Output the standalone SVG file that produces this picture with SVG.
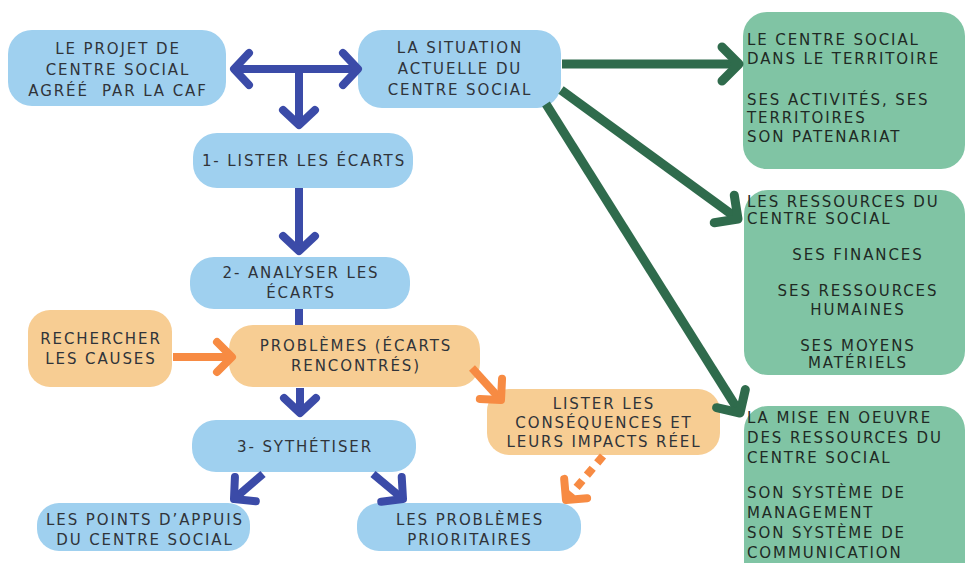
<svg xmlns="http://www.w3.org/2000/svg" width="966" height="563" viewBox="0 0 966 563">
<style>
.bl{fill:#9fd0ef}
.or{fill:#f7cd93}
.gr{fill:#80c4a4}
text{font-family:"DejaVu Sans","Liberation Sans",sans-serif;font-size:15px;letter-spacing:1.9px;fill:#30343a}
.c{text-anchor:middle}
.g{fill:#1f2a24}
.lb{stroke:#3b4ba8;stroke-width:8;fill:none}
.lg{stroke:#2f6b4c;stroke-width:9;fill:none}
.lo{stroke:#f78b43;stroke-width:8;fill:none}
</style>
<defs>
<marker id="mb" markerUnits="userSpaceOnUse" viewBox="-30 -30 40 60" refX="0" refY="0" markerWidth="40" markerHeight="60" orient="auto-start-reverse" overflow="visible"><path d="M-15,-16 L0,0 L-15,16" fill="none" stroke="#3b4ba8" stroke-width="8" stroke-linecap="round" stroke-linejoin="round"/></marker>
<marker id="mg" markerUnits="userSpaceOnUse" viewBox="-30 -30 40 60" refX="0" refY="0" markerWidth="40" markerHeight="60" orient="auto" overflow="visible"><path d="M-17,-17 L0,0 L-17,17" fill="none" stroke="#2f6b4c" stroke-width="9" stroke-linecap="round" stroke-linejoin="round"/></marker>
<marker id="mo" markerUnits="userSpaceOnUse" viewBox="-30 -30 40 60" refX="0" refY="0" markerWidth="40" markerHeight="60" orient="auto" overflow="visible"><path d="M-15,-15 L0,0 L-15,15" fill="none" stroke="#f78b43" stroke-width="8" stroke-linecap="round" stroke-linejoin="round"/></marker>
</defs>

<g id="n1"><rect class="bl" x="8" y="30" width="218" height="76" rx="24"/>
<text class="c" x="118" y="54">LE PROJET DE</text>
<text class="c" x="118" y="75">CENTRE SOCIAL</text>
<text class="c" x="118" y="96" xml:space="preserve">AGRÉÉ  PAR LA CAF</text></g>

<g id="n2"><rect class="bl" x="358" y="30" width="203" height="78" rx="24"/>
<text class="c" x="460" y="53">LA SITUATION</text>
<text class="c" x="460" y="74">ACTUELLE DU</text>
<text class="c" x="460" y="95">CENTRE SOCIAL</text></g>

<g id="n3"><rect class="bl" x="193" y="133" width="220" height="55" rx="24"/>
<text class="c" x="304" y="166">1- LISTER LES ÉCARTS</text></g>

<g id="n4"><rect class="bl" x="190" y="257" width="220" height="52" rx="24"/>
<text class="c" x="301" y="278">2- ANALYSER LES</text>
<text class="c" x="301" y="298">ÉCARTS</text></g>

<g id="n5"><rect class="or" x="28" y="310" width="144" height="77" rx="22"/>
<text class="c" x="101" y="344">RECHERCHER</text>
<text class="c" x="101" y="364">LES CAUSES</text></g>

<g id="n6"><rect class="or" x="229" y="325" width="251" height="62" rx="24"/>
<text class="c" x="356" y="351">PROBLÈMES (ÉCARTS</text>
<text class="c" x="356" y="371">RENCONTRÉS)</text></g>

<g id="n7"><rect class="bl" x="192" y="420" width="224" height="52" rx="24"/>
<text class="c" x="305" y="452">3- SYTHÉTISER</text></g>

<g id="n8"><rect class="bl" x="37" y="503" width="213" height="48" rx="22"/>
<text class="c" x="145" y="525">LES POINTS D’APPUIS</text>
<text class="c" x="145" y="545">DU CENTRE SOCIAL</text></g>

<g id="n9"><rect class="bl" x="357" y="503" width="224" height="48" rx="22"/>
<text class="c" x="470" y="525">LES PROBLÈMES</text>
<text class="c" x="470" y="545">PRIORITAIRES</text></g>

<g id="n10"><rect class="or" x="487" y="389" width="233" height="66" rx="22"/>
<text class="c" x="604" y="409">LISTER LES</text>
<text class="c" x="604" y="428">CONSÉQUENCES ET</text>
<text class="c" x="604" y="447">LEURS IMPACTS RÉEL</text></g>

<g id="g1"><rect class="gr" x="743" y="12" width="222" height="157" rx="24"/>
<text class="g" x="747" y="45">LE CENTRE SOCIAL</text>
<text class="g" x="747" y="64">DANS LE TERRITOIRE</text>
<text class="g" x="747" y="105">SES ACTIVITÉS, SES</text>
<text class="g" x="747" y="123">TERRITOIRES</text>
<text class="g" x="747" y="142">SON PATENARIAT</text></g>

<g id="g2"><rect class="gr" x="744" y="190" width="221" height="185" rx="24"/>
<text class="g" x="747" y="207">LES RESSOURCES DU</text>
<text class="g" x="747" y="224">CENTRE SOCIAL</text>
<text class="g c" x="858" y="260">SES FINANCES</text>
<text class="g c" x="858" y="296">SES RESSOURCES</text>
<text class="g c" x="858" y="315">HUMAINES</text>
<text class="g c" x="858" y="351">SES MOYENS</text>
<text class="g c" x="858" y="368">MATÉRIELS</text></g>

<g id="g3"><rect class="gr" x="744" y="406" width="221" height="180" rx="24"/>
<text class="g" x="747" y="423">LA MISE EN OEUVRE</text>
<text class="g" x="747" y="443">DES RESSOURCES DU</text>
<text class="g" x="747" y="463">CENTRE SOCIAL</text>
<text class="g" x="747" y="498">SON SYSTÈME DE</text>
<text class="g" x="747" y="518">MANAGEMENT</text>
<text class="g" x="747" y="538">SON SYSTÈME DE</text>
<text class="g" x="747" y="558">COMMUNICATION</text></g>

<g id="connectors">
<line class="lb" x1="234" y1="69" x2="358" y2="69" marker-start="url(#mb)" marker-end="url(#mb)"/>
<line class="lb" x1="299" y1="69" x2="299" y2="125" marker-end="url(#mb)"/>
<line class="lb" x1="299" y1="188" x2="299" y2="251" marker-end="url(#mb)"/>
<line class="lb" x1="299" y1="309" x2="299" y2="325"/>
<line class="lb" x1="300" y1="388" x2="300" y2="413" marker-end="url(#mb)"/>
<line class="lb" x1="263" y1="474" x2="234" y2="499" marker-end="url(#mb)"/>
<line class="lb" x1="373" y1="474" x2="403" y2="499" marker-end="url(#mb)"/>
<line class="lg" x1="562" y1="64" x2="739" y2="64" marker-end="url(#mg)"/>
<line class="lg" x1="561" y1="90" x2="738" y2="219" marker-end="url(#mg)"/>
<line class="lg" x1="546" y1="104" x2="740" y2="413" marker-end="url(#mg)"/>
<line class="lo" x1="173" y1="357" x2="232" y2="357" marker-end="url(#mo)"/>
<line class="lo" x1="472" y1="368" x2="501" y2="400" marker-end="url(#mo)"/>
<line class="lo" x1="603" y1="456" x2="566" y2="500" stroke-dasharray="9 7" marker-end="url(#mo)"/>
</g>
</svg>
